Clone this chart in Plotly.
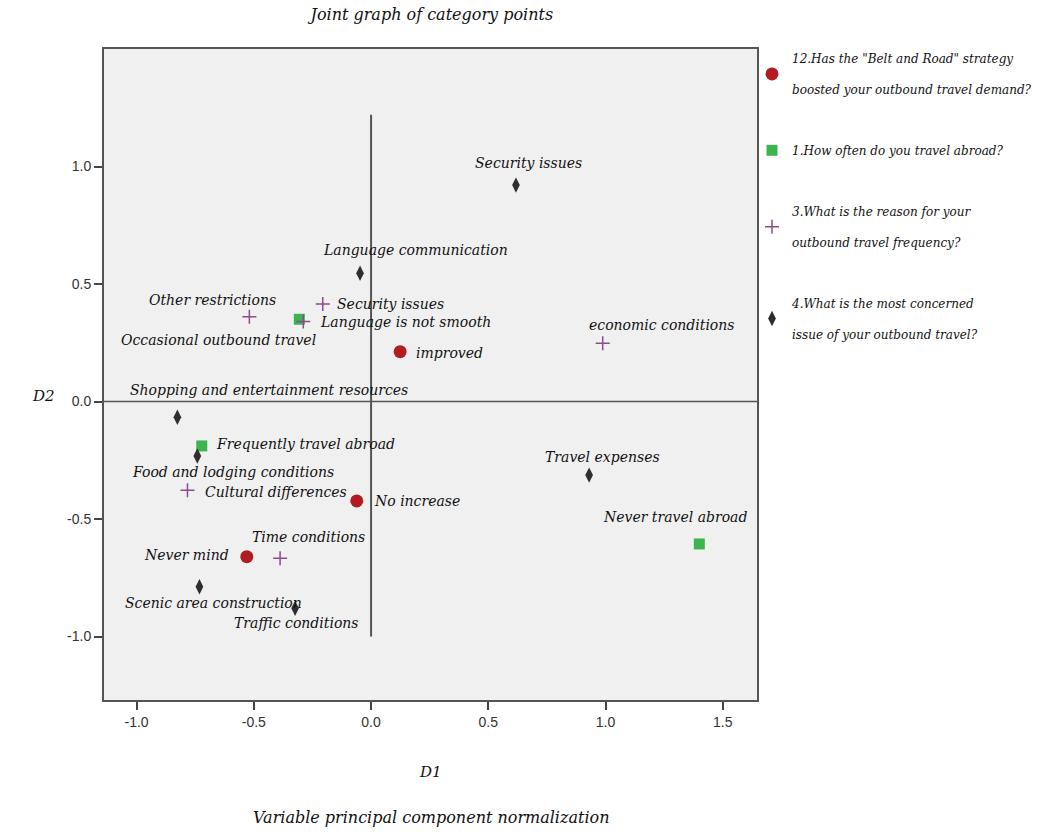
import plotly.graph_objects as go

# ---- category quantifications: (D1, D2) for every category of each variable ----
q12_labels = ["improved", "No increase", "Never mind"]
q12_d1 = [0.124, -0.061, -0.530]
q12_d2 = [0.212, -0.423, -0.660]

q1_labels = ["Frequently travel abroad", "Occasional outbound travel", "Never travel abroad"]
q1_d1 = [-0.722, -0.306, 1.400]
q1_d2 = [-0.189, 0.350, -0.606]

q3_labels = ["Other restrictions", "Security issues", "Language is not smooth",
             "economic conditions", "Cultural differences", "Time conditions"]
q3_d1 = [-0.519, -0.206, -0.289, 0.988, -0.783, -0.388]
q3_d2 = [0.361, 0.415, 0.340, 0.248, -0.377, -0.667]

q4_labels = ["Security issues", "Language communication", "Shopping and entertainment resources",
             "Food and lodging conditions", "Travel expenses", "Scenic area construction",
             "Traffic conditions"]
q4_d1 = [0.618, -0.047, -0.826, -0.741, 0.930, -0.732, -0.324]
q4_d2 = [0.921, 0.546, -0.067, -0.232, -0.313, -0.788, -0.880]

x_ticks = [-1.0, -0.5, 0.0, 0.5, 1.0, 1.5]
x_tick_text = ["-1.0", "-0.5", "0.0", "0.5", "1.0", "1.5"]
y_ticks = [-1.0, -0.5, 0.0, 0.5, 1.0]
y_tick_text = ["-1.0", "-0.5", "0.0", "0.5", "1.0"]

q12_name = '12.Has the "Belt and Road" strategy<br> <br>boosted your outbound travel demand?'
q1_name = "1.How often do you travel abroad?"
q3_name = "3.What is the reason for your<br> <br>outbound travel frequency?"
q4_name = "4.What is the most concerned<br> <br>issue of your outbound travel?"

# ---- styling ----
SERIF = "DejaVu Serif"
SANS = "Liberation Sans, Arial, sans-serif"
RED = "#B01C22"
GREEN = "#3DB54E"
PURPLE = "#8E4A8C"
DARK = "#2E2E2E"
FRAME = "#555555"

X_RANGE = [-1.139, 1.646]
Y_RANGE = [-1.270, 1.500]
VLINE_SPAN = [-1.0, 1.22]

# label placement per category: (xanchor, x offset px, y offset px downward)
q12_place = [("left", 14, 1), ("left", 15, 0), ("right", -16, -2)]
q1_place = [("left", 12, -2), ("right", 19, 21), ("center", -24, -27)]
q3_place = [("center", -37, -17), ("left", 12, 0), ("left", 15, 0),
            ("center", 59, -18), ("left", 16, 2), ("center", 28, -21)]
q4_place = [("center", 13, -22), ("center", 55, -23), ("left", -49, -27),
            ("center", 36, 16), ("center", 13, -18), ("center", 14, 16), ("center", 1, 15)]

series = [
    dict(name=q12_name, x=q12_d1, y=q12_d2, labels=q12_labels, place=q12_place,
         marker=dict(symbol="circle", size=13, color=RED)),
    dict(name=q1_name, x=q1_d1, y=q1_d2, labels=q1_labels, place=q1_place,
         marker=dict(symbol="square", size=11, color=GREEN)),
    dict(name=q3_name, x=q3_d1, y=q3_d2, labels=q3_labels, place=q3_place,
         marker=dict(symbol="cross-thin", size=10, color=PURPLE,
                     line=dict(color=PURPLE, width=1.5))),
    dict(name=q4_name, x=q4_d1, y=q4_d2, labels=q4_labels, place=q4_place,
         marker=dict(symbol="diamond-tall", size=11, color=DARK)),
]

fig = go.Figure()
annotations = []
for i, s in enumerate(series):
    fig.add_trace(go.Scatter(
        x=s["x"], y=s["y"], mode="markers", name="<i>" + s["name"] + "</i>",
        marker=s["marker"], legendgroup=f"g{i}", cliponaxis=False,
    ))
    for xv, yv, lab, (anc, dx, dy) in zip(s["x"], s["y"], s["labels"], s["place"]):
        annotations.append(dict(
            x=xv, y=yv, xref="x", yref="y", text="<i>" + lab + "</i>",
            showarrow=False, xanchor=anc, yanchor="middle",
            xshift=dx, yshift=-dy,
            font=dict(family=SERIF, size=14, color="#111111"),
        ))

# axis titles and caption
annotations += [
    dict(text="<i>D2</i>", xref="paper", yref="paper", x=-0.092, y=0.467,
         showarrow=False, xanchor="center", yanchor="middle",
         font=dict(family=SERIF, size=15, color="#111111")),
    dict(text="<i>D1</i>", xref="paper", yref="paper", x=0.5, y=-0.1106,
         showarrow=False, xanchor="center", yanchor="middle",
         font=dict(family=SERIF, size=15, color="#111111")),
    dict(text="<i>Variable principal component normalization</i>", xref="paper", yref="paper",
         x=0.5, y=-0.181, showarrow=False, xanchor="center", yanchor="middle",
         font=dict(family=SERIF, size=16, color="#111111")),
]

# reference lines through the origin
shapes = [
    dict(type="line", xref="paper", yref="y", x0=0, x1=1, y0=0, y1=0,
         line=dict(color=FRAME, width=1.5), layer="below"),
    dict(type="line", xref="x", yref="y", x0=0, x1=0, y0=VLINE_SPAN[0], y1=VLINE_SPAN[1],
         line=dict(color=FRAME, width=2), layer="below"),
]

axis_common = dict(
    showgrid=False, zeroline=False, showline=True, mirror=True,
    linecolor=FRAME, linewidth=2, ticks="outside", ticklen=8, tickwidth=2,
    tickcolor="#444444",
    tickfont=dict(family=SANS, size=14, color="#333333"),
)

fig.update_layout(
    width=1038, height=835,
    margin=dict(l=104, r=281, t=49, b=135, autoexpand=False),
    paper_bgcolor="white", plot_bgcolor="#F0F0F0",
    title=dict(text="<i>Joint graph of category points</i>", x=0.502, xref="paper",
               y=1 - 14 / 835, yref="container", xanchor="center", yanchor="middle",
               font=dict(family=SERIF, size=16, color="#111111")),
    xaxis=dict(range=X_RANGE, tickvals=x_ticks, ticktext=x_tick_text, **axis_common),
    yaxis=dict(range=Y_RANGE, tickvals=y_ticks, ticktext=y_tick_text, **axis_common),
    shapes=shapes, annotations=annotations,
    showlegend=True,
    legend=dict(xref="container", yref="container", x=752 / 1038, y=1 - 44 / 835,
                xanchor="left", yanchor="top", traceorder="grouped", tracegroupgap=42,
                valign="middle", bgcolor="rgba(0,0,0,0)",
                font=dict(family=SERIF, size=12, color="#111111")),
)

fig.write_html("out.html")
